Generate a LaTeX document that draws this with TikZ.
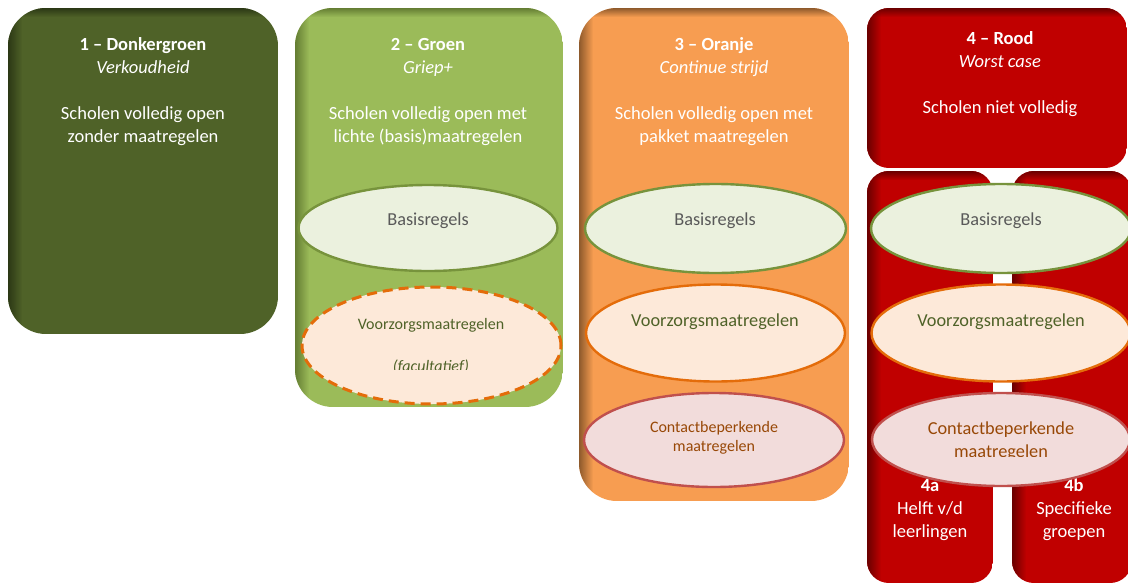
\documentclass[tikz,border=0pt]{standalone}
\usepackage{fontspec}
\setmainfont{Carlito}
\usetikzlibrary{fadings,calc,shapes.geometric}
\definecolor{cOne}{HTML}{4F6228}
\definecolor{cOneD}{HTML}{2C3815}
\definecolor{cTwo}{HTML}{9BBB59}
\definecolor{cTwoD}{HTML}{647D33}
\definecolor{cThree}{HTML}{F79D51}
\definecolor{cThreeD}{HTML}{8E5A2C}
\definecolor{cFour}{HTML}{C00000}
\definecolor{cFourD}{HTML}{6A0000}
\definecolor{bFill}{HTML}{EBF1DE}
\definecolor{bLine}{HTML}{77933C}
\definecolor{bText}{HTML}{595959}
\definecolor{vFill}{HTML}{FDE9D9}
\definecolor{vLine}{HTML}{E46C0A}
\definecolor{vText}{HTML}{4F6228}
\definecolor{kFill}{HTML}{F2DCDB}
\definecolor{kLine}{HTML}{C0504D}
\definecolor{kText}{HTML}{984807}
\newcommand\panelbox[7]{%
  \begin{scope}
    \clip[rounded corners=#5] (#1,#2) rectangle (#3,#4);
    \fill[#6] (#1,#2) rectangle (#3,#4);
    \fill[#7, path fading=east] (#1,#2) rectangle ($(#1,#4)+(14,0)$);
    \fill[#7, path fading=south] (#1,#2) rectangle ($(#3,#2)+(0,9)$);
  \end{scope}}
\tikzset{
  txt/.style={anchor=base, inner sep=0pt, text=white, font=\fontsize{18.5}{23}\selectfont},
  ttl/.style={txt, font=\fontsize{18.5}{23}\selectfont\bfseries},
  sbt/.style={txt, font=\fontsize{18.5}{23}\selectfont\itshape},
  ell/.style={ellipse, inner sep=0pt, line width=2.4pt},
  ebasis/.style={ell, fill=bFill, draw=bLine},
  evoor/.style={ell, fill=vFill, draw=vLine},
  econt/.style={ell, fill=kFill, draw=kLine},
  etxt/.style={anchor=base, inner sep=0pt, font=\fontsize{18.3}{22}\selectfont},
  esmall/.style={anchor=base, inner sep=0pt, font=\fontsize{16}{20}\selectfont},
}
\begin{document}
\begin{tikzpicture}[x=1pt,y=-1pt]
\useasboundingbox (0,0) rectangle (1128,584);
\clip (0,0) rectangle (1128,584);
% panels
\panelbox{8}{8}{278}{334}{38}{cOne}{cOneD}
\panelbox{295}{8}{563}{407}{38}{cTwo}{cTwoD}
\panelbox{579}{8}{849}{501}{38}{cThree}{cThreeD}
\panelbox{867}{8}{1127}{168}{22}{cFour}{cFourD}
\panelbox{867}{171}{993}{583}{22}{cFour}{cFourD}
\panelbox{1012}{171}{1132}{583}{22}{cFour}{cFourD}
% panel 1
\node[ttl] (t1a) at (143,50) {1 – Donkergroen};
\node[sbt] (t1b) at (143,73) {Verkoudheid};
\node[txt] (t1c) at (143,119) {Scholen volledig open};
\node[txt] (t1d) at (143,142) {zonder maatregelen};
% panel 2
\node[ttl] (t2a) at (428,50) {2 – Groen};
\node[sbt] (t2b) at (428,73) {Griep+};
\node[txt] (t2c) at (428,119) {Scholen volledig open met};
\node[txt] (t2d) at (428,142) {lichte (basis)maatregelen};
% panel 3
\node[ttl] (t3a) at (714,50) {3 – Oranje};
\node[sbt] (t3b) at (714,73) {Continue strijd};
\node[txt] (t3c) at (714,119) {Scholen volledig open met};
\node[txt] (t3d) at (714,142) {pakket maatregelen};
% panel 4
\node[ttl] (t4a) at (1000,44) {4 – Rood};
\node[sbt] (t4b) at (1000,67) {Worst case};
\node[txt] (t4c) at (1000,113) {Scholen niet volledig};
\node[ttl] (t4d) at (930,491) {4a};
\node[txt] (t4e) at (930,514) {Helft v/d};
\node[txt] (t4f) at (930,537) {leerlingen};
\node[ttl] (t4g) at (1074,491) {4b};
\node[txt] (t4h) at (1074,514) {Specifieke};
\node[txt] (t4i) at (1074,537) {groepen};
% ellipses panel 2
\node[ebasis, minimum width=259pt, minimum height=86pt] (e2a) at (428,228) {};
\node[etxt, text=bText] (l2a) at (428,225) {Basisregels};
\node[ell, fill=vFill, draw=vLine, line width=3pt, dash pattern=on 10pt off 6pt, minimum width=259pt, minimum height=117pt] (e2b) at (431.5,345.5) {};
\node[esmall, text=vText] (l2b) at (431,329) {Voorzorgsmaatregelen};
\begin{scope}
\clip (300,300) rectangle (560,369);
\node[esmall, text=vText, font=\fontsize{16}{20}\selectfont\itshape] (l2c) at (431,371) {(facultatief)};
\end{scope}
% ellipses panel 3
\node[ebasis, minimum width=261pt, minimum height=89pt] (e3a) at (715.5,228.5) {};
\node[etxt, text=bText] (l3a) at (715,225) {Basisregels};
\node[evoor, minimum width=259pt, minimum height=97pt] (e3b) at (715.5,333) {};
\node[etxt, text=vText] (l3b) at (715,326) {Voorzorgsmaatregelen};
\node[econt, minimum width=260pt, minimum height=94pt] (e3c) at (714,440) {};
\node[esmall, text=kText] (l3c) at (714,432) {Contactbeperkende};
\node[esmall, text=kText] (l3d) at (714,451) {maatregelen};
% ellipses panel 4
\node[ebasis, minimum width=260pt, minimum height=89pt] (e4a) at (1001,228.5) {};
\node[etxt, text=bText] (l4a) at (1001,225) {Basisregels};
\node[evoor, minimum width=259pt, minimum height=97pt] (e4b) at (1001,333) {};
\node[etxt, text=vText] (l4b) at (1001,326) {Voorzorgsmaatregelen};
\node[econt, minimum width=258pt, minimum height=93pt] (e4c) at (1001,439.5) {};
\node[etxt, text=kText] (l4c) at (1001,434) {Contactbeperkende};
\begin{scope}
\clip (870,440) rectangle (1128,456);
\node[etxt, text=kText] (l4d) at (1001,457) {maatregelen};
\end{scope}
\end{tikzpicture}
\end{document}
